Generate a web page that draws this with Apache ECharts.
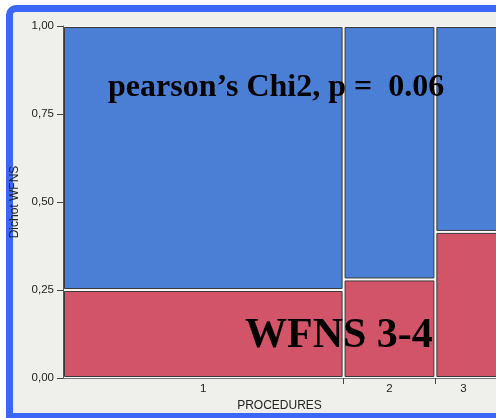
<!DOCTYPE html>
<html>
<head>
<meta charset="utf-8">
<script src="https://cdn.jsdelivr.net/npm/echarts@6/dist/echarts.min.js"></script>
<style>
  html, body { margin: 0; padding: 0; background: #ffffff; }
  #wrap { position: relative; width: 496px; height: 418px; overflow: hidden; background: #ffffff; }
  #frame { position: absolute; left: 6px; top: 5px; width: 600px; height: 401px;
           border: 7px solid #3b66f6; border-top-left-radius: 10px; background: #efefeb; }
  #chart { position: absolute; left: 0; top: 0; width: 496px; height: 418px; }
</style>
</head>
<body>
<div id="wrap">
  <div id="frame"></div>
  <div id="chart"></div>
</div>
<script>
// ---- data ----
const categories = ['1', '2', '3'];
const colShares = [0.648, 0.212, 0.160];       // column widths (column 3 runs past the visible edge)
const redShares = [0.25, 0.28, 0.415];          // share of "WFNS 3-4" within each column
const yTicks = [0, 0.25, 0.5, 0.75, 1];
const seriesNames = ['WFNS 3-4', 'WFNS 1-2'];
const colors = ['#d25468', '#4a7fd5'];
const xVisibleMax = 1.0;

// ---- build mosaic cells ----
const bounds = [0];
colShares.forEach(w => bounds.push(bounds[bounds.length - 1] + w));
const centers = categories.map((c, i) => (bounds[i] + Math.min(bounds[i + 1], xVisibleMax)) / 2 - (i === categories.length - 1 ? 0.005 : 0));
const cells = [];
categories.forEach((c, i) => {
  cells.push([bounds[i], bounds[i + 1], 0, redShares[i], 0]);
  cells.push([bounds[i], bounds[i + 1], redShares[i], 1, 1]);
});

const chart = echarts.init(document.getElementById('chart'), null, { renderer: 'canvas' });
const axisFont = 'Liberation Sans';
chart.setOption({
  backgroundColor: 'transparent',
  animation: false,
  grid: { left: 63, right: 0, top: 26, bottom: 40, show: true, backgroundColor: '#f6f6f4', borderWidth: 0 },
  xAxis: {
    type: 'value', min: 0, max: xVisibleMax,
    name: 'PROCEDURES', nameLocation: 'middle', nameGap: 21,
    nameTextStyle: { color: '#222', fontFamily: axisFont, fontSize: 12 },
    splitLine: { show: false },
    axisLine: { show: true, lineStyle: { color: '#777', width: 1 } },
    axisTick: { show: true, customValues: bounds.slice(1, bounds.length - 1), length: 6, lineStyle: { color: '#444' } },
    axisLabel: {
      customValues: centers, margin: 5, color: '#222', fontFamily: axisFont, fontSize: 11.5,
      formatter: function (v) {
        let best = 0, d = 1e9;
        centers.forEach((c, i) => { if (Math.abs(c - v) < d) { d = Math.abs(c - v); best = i; } });
        return categories[best];
      }
    }
  },
  yAxis: {
    type: 'value', min: 0, max: 1, interval: 0.25,
    name: 'Dichot WFNS', nameLocation: 'middle', nameGap: 40,
    nameTextStyle: { color: '#222', fontFamily: axisFont, fontSize: 12 },
    splitLine: { show: false },
    axisLine: { show: true, lineStyle: { color: '#555', width: 1 } },
    axisTick: { show: true, length: 6, lineStyle: { color: '#444' } },
    axisLabel: {
      margin: 9, color: '#222', fontFamily: axisFont, fontSize: 11.5,
      customValues: yTicks,
      formatter: v => v.toFixed(2).replace('.', ',')
    }
  },
  series: [{
    type: 'custom',
    data: cells,
    clip: true,
    renderItem: function (params, api) {
      const x0 = api.value(0), x1 = api.value(1), y0 = api.value(2), y1 = api.value(3);
      const ci = api.value(4);
      const p0 = api.coord([x0, y1]);
      const p1 = api.coord([x1, y0]);
      return {
        type: 'rect',
        shape: { x: p0[0] + 1.5, y: p0[1] + 1.5, width: p1[0] - p0[0] - 3, height: p1[1] - p0[1] - 3 },
        style: { fill: colors[ci], stroke: '#3a3a3a', lineWidth: 1 }
      };
    },
    encode: { x: [0, 1], y: [2, 3] }
  }],
  graphic: [
    { type: 'text', left: 108, top: 72, z: 100,
      style: { text: 'pearson\u2019s Chi2, p =  0.06', fill: '#000', font: 'bold 32px "Liberation Serif"' } },
    { type: 'text', left: 245, top: 315, z: 100,
      style: { text: 'WFNS 3-4', fill: '#000', font: 'bold 42px "Liberation Serif"' } }
  ]
});
</script>
</body>
</html>
